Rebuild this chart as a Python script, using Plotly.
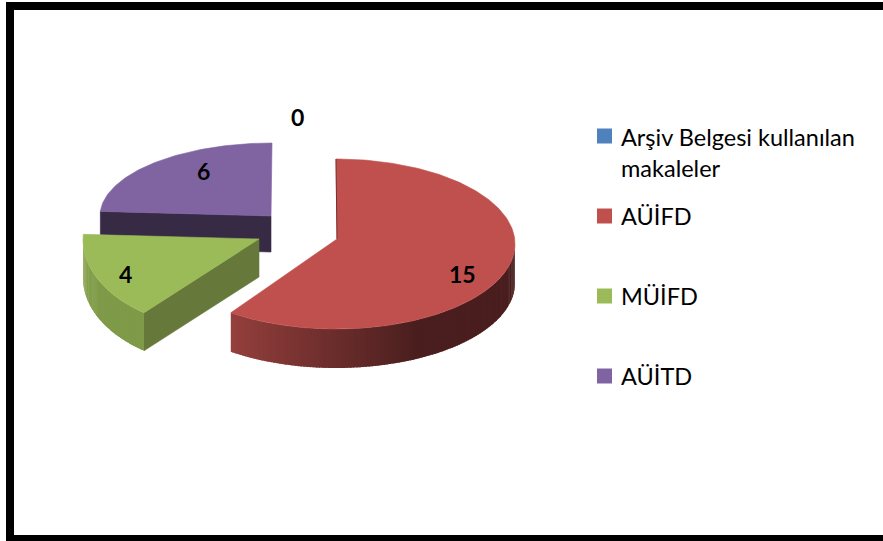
import math
import plotly.graph_objects as go

categories = ["Arşiv Belgesi kullanılan<br>makaleler", "AÜİFD", "MÜİFD", "AÜİTD"]
values = [0, 15, 4, 6]
colors = ["#4f81bd", "#c0504d", "#9bbb59", "#8064a2"]

# Projection of each exploded slice on the plot: ellipse centre, radii, apex, depth
centre_x = [300, 336, 231, 272]
centre_y = [215, 244, 240, 216]
radius_x = [170, 179, 148, 172]
radius_y = [80, 85, 90, 73]
apex_x = [290, 337, 259, 271]
apex_y = [205, 239, 239, 216]
depth = [36, 39, 38, 36]
# Wall shading: colours at the start and end of the visible outer wall, and the cut face
wall_start = ["#4f81bd", "#4a1e1e", "#7f9a48", "#372a45"]
wall_end = ["#4f81bd", "#95403d", "#8aa650", "#372a45"]
cut_face = [None, None, "#66793a", "#372a45"]
label_x = [297, 462, 125, 203]
label_y = [117, 274, 274, 171]
# Legend placement
legend_marker_x = 604.5
legend_text_x = 619
legend_y = [136, 216, 296, 376]
legend_text_y = [152, 216, 296, 376]

total = sum(values)


def rim(i, deg):
    t = math.radians(deg)
    return centre_x[i] + radius_x[i] * math.sin(t), centre_y[i] - radius_y[i] * math.cos(t)


def mix(c1, c2, f):
    a = [int(c1[k:k + 2], 16) for k in (1, 3, 5)]
    b = [int(c2[k:k + 2], 16) for k in (1, 3, 5)]
    return "rgb(%d,%d,%d)" % tuple(round(p + (q - p) * f) for p, q in zip(a, b))


def poly(xs, ys, color, lw=0.6):
    return go.Scatter(x=xs, y=ys, mode="lines", fill="toself", fillcolor=color,
                      line=dict(color=color, width=lw), hoverinfo="skip", showlegend=False)


fig = go.Figure()
start = 0.0
spans = []
for v in values:
    spans.append((start, start + 360.0 * v / total))
    start += 360.0 * v / total

# back to front: purple, green, red
for i in (3, 2, 1):
    a0, a1 = spans[i]
    # straight cut face that looks at the viewer
    if cut_face[i]:
        ex, ey = rim(i, a0)
        fig.add_trace(poly([apex_x[i], ex, ex, apex_x[i], apex_x[i]],
                           [apex_y[i], ey, ey + depth[i], apex_y[i] + depth[i], apex_y[i]],
                           cut_face[i]))
    # outer wall, in overlapping strips for the shading
    w0, w1 = max(a0, 90.0), min(a1, 270.0)
    n = max(int(w1 - w0), 0)
    for k in range(n):
        d0 = w0 + (w1 - w0) * k / n
        d1 = w0 + (w1 - w0) * min(k + 1.6, n) / n
        mid = [rim(i, d0 + (d1 - d0) * s / 4) for s in range(5)]
        xs = [p[0] for p in mid]
        ys = [p[1] for p in mid]
        f = (k + 0.5) / n
        shade = mix(wall_start[i], wall_end[i], min(1.0, max(0.0, (f - 0.5) / 0.5)))
        fig.add_trace(go.Scatter(x=xs + xs[::-1] + xs[:1],
                                 y=ys + [q + depth[i] for q in ys[::-1]] + ys[:1],
                                 mode="lines", fill="toself", fillcolor=shade,
                                 line=dict(width=0), hoverinfo="skip", showlegend=False))
    # top face
    steps = max(int(a1 - a0), 2)
    pts = [rim(i, a0 + (a1 - a0) * k / steps) for k in range(steps + 1)]
    fig.add_trace(poly([apex_x[i]] + [p[0] for p in pts] + [apex_x[i]],
                       [apex_y[i]] + [p[1] for p in pts] + [apex_y[i]], colors[i]))

# thin dark seam along the red slice's straight back edge
sx, sy = rim(1, 0)
fig.add_trace(go.Scatter(x=[sx, apex_x[1]], y=[sy, apex_y[1]], mode="lines",
                         line=dict(color="#7a2f2d", width=1), hoverinfo="skip", showlegend=False))

# legend entries
fig.add_trace(go.Scatter(x=[legend_marker_x] * len(categories), y=legend_y, mode="markers",
                         marker=dict(symbol="square", size=15, color=colors),
                         hoverinfo="skip", showlegend=False))
for i, name in enumerate(categories):
    fig.add_annotation(x=legend_text_x, y=legend_text_y[i], text=name, showarrow=False,
                       xanchor="left", align="left",
                       font=dict(family="Lato", size=23.5, color="black"))

for i, v in enumerate(values):
    fig.add_annotation(x=label_x[i], y=label_y[i], text=str(v), showarrow=False,
                       font=dict(family="Lato", size=23, color="black", weight="bold"))

fig.update_layout(
    width=883, height=541, margin=dict(l=0, r=0, t=0, b=0),
    paper_bgcolor="white", plot_bgcolor="white", showlegend=False,
    xaxis=dict(range=[0, 883], visible=False, fixedrange=True),
    yaxis=dict(range=[541, 0], visible=False, fixedrange=True),
    shapes=[dict(type="rect", xref="x", yref="y", x0=10, y0=6, x1=900, y1=539,
                 line=dict(color="black", width=8), layer="above")],
)
fig.write_html("out.html", config={"displayModeBar": False},
               post_script="document.body.style.margin='0';")
